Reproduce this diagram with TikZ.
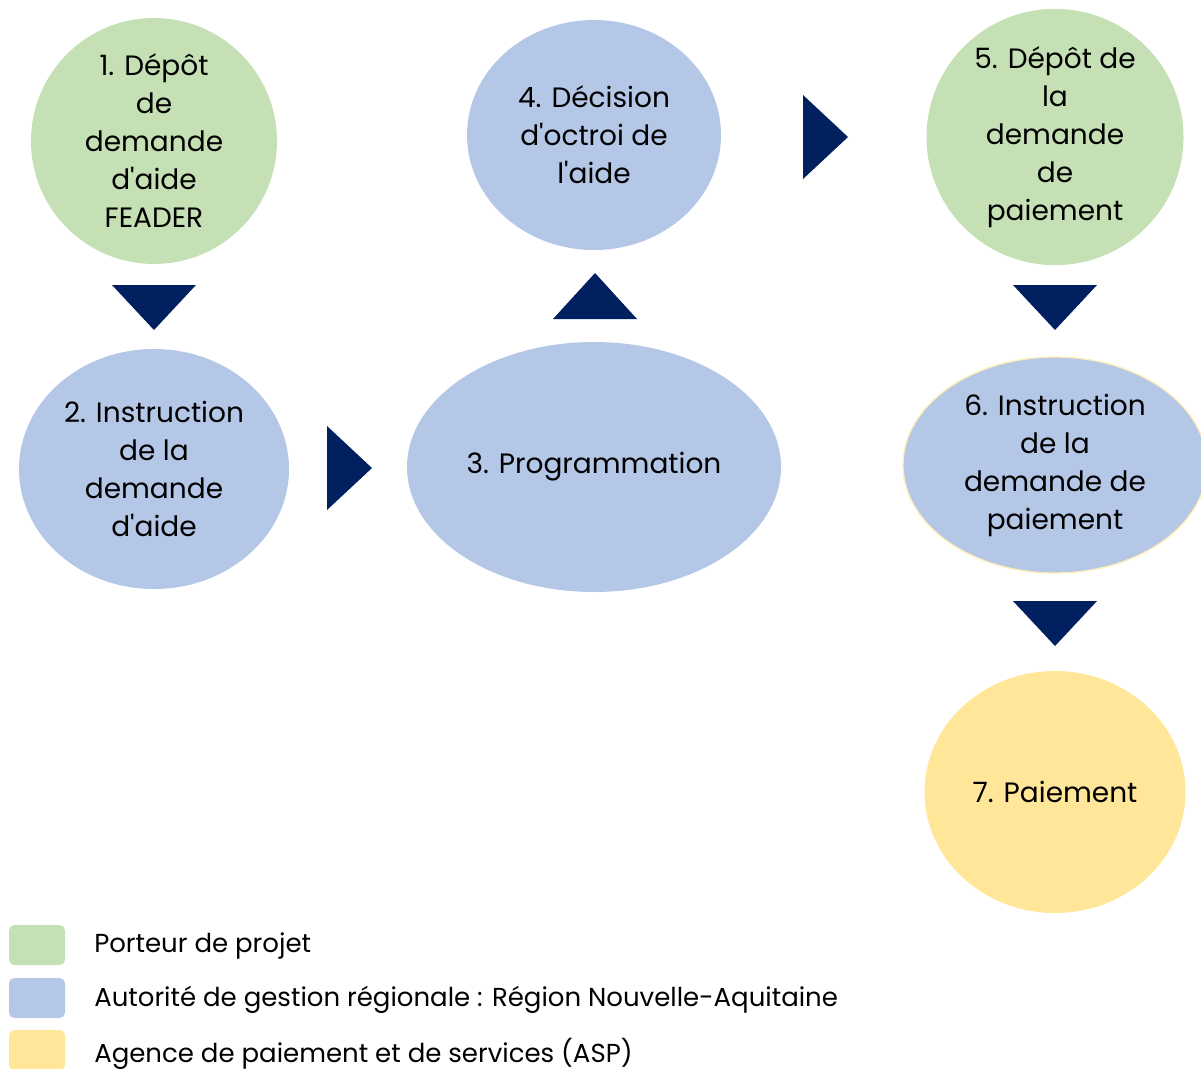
\documentclass[tikz,border=0pt]{standalone}
\usepackage{fontspec}
\setmainfont{Poppins}
\usetikzlibrary{shapes.geometric,positioning}
\definecolor{vert}{HTML}{C5E0B4}
\definecolor{bleu}{HTML}{B4C7E7}
\definecolor{jaune}{HTML}{FFE699}
\definecolor{marine}{HTML}{002060}
\newlength\unitpx
\setlength\unitpx{0.75pt}
\newcommand\apos{\textquotesingle}
\tikzset{
  etape/.style={ellipse,inner sep=0pt,align=center,
    font=\fontsize{21}{28.5}\selectfont},
  fleche/.style={fill=marine},
  carre/.style={rounded corners=4pt,minimum width=56\unitpx,minimum height=40\unitpx,inner sep=0pt},
  legende/.style={anchor=west,inner sep=0pt,font=\fontsize{19.5}{24}\selectfont}
}
\begin{document}
\begin{tikzpicture}[x=0.75pt,y=-0.75pt]
  \useasboundingbox (0,0) rectangle (1201,1068);
  % etapes
  \node[etape,fill=vert,minimum width=246\unitpx,minimum height=245\unitpx] (e1) at (154,141)
    {1. Dépôt\\de\\demande\\d\apos aide\\FEADER};
  \node[etape,fill=bleu,minimum width=270\unitpx,minimum height=240\unitpx] (e2) at (154,469)
    {2. Instruction\\de la\\demande\\d\apos aide};
  \node[etape,fill=bleu,minimum width=374\unitpx,minimum height=250\unitpx] (e3) at (594,467)
    {3. Programmation};
  \node[etape,fill=bleu,minimum width=254\unitpx,minimum height=230\unitpx] (e4) at (594,135)
    {4. Décision\\d\apos octroi de\\l\apos aide};
  \node[etape,fill=vert,minimum width=257\unitpx,minimum height=242\unitpx] (e5) at (1055,137)
    {5. Dépôt de\\la\\demande\\de\\paiement};
  \node[etape,fill=bleu,draw=jaune!70,line width=1pt,minimum width=304\unitpx,minimum height=216\unitpx] (e6) at (1055,465)
    {6. Instruction\\de la\\demande de\\paiement};
  \node[etape,fill=jaune,minimum width=261\unitpx,minimum height=242\unitpx] (e7) at (1055,792)
    {7. Paiement};
  % fleches
  \fill[fleche] (112,285) -- (196,285) -- (154,330) -- cycle;
  \fill[fleche] (327,426) -- (327,510) -- (372,468) -- cycle;
  \fill[fleche] (553,319) -- (637,319) -- (595,273) -- cycle;
  \fill[fleche] (803,95) -- (803,179) -- (848,137) -- cycle;
  \fill[fleche] (1013,285) -- (1097,285) -- (1055,330) -- cycle;
  \fill[fleche] (1013,601) -- (1097,601) -- (1055,646) -- cycle;
  % legende
  \node[carre,fill=vert] (c1) at (37,945) {};
  \node[carre,fill=bleu] (c2) at (37,998) {};
  \node[carre,fill=jaune] (c3) at (37,1050) {};
  \node[legende] (l1) at (94,946) {Porteur de projet};
  \node[legende] (l2) at (94,1000) {Autorité de gestion régionale : Région Nouvelle-Aquitaine};
  \node[legende] (l3) at (94,1054) {Agence de paiement et de services (ASP)};
\end{tikzpicture}
\end{document}
